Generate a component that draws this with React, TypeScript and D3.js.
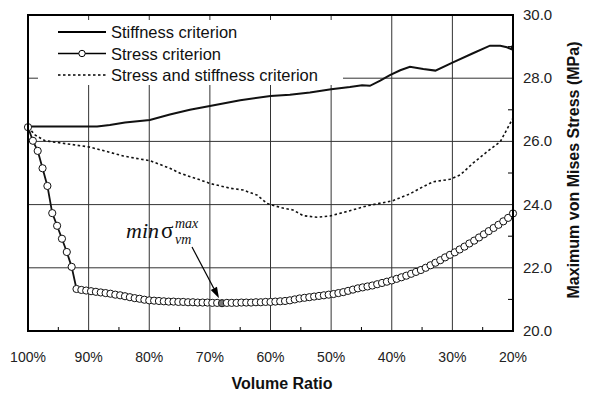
import * as d3 from 'd3';
import React from 'react';

// axis ticks
const volumeTicks = [100, 90, 80, 70, 60, 50, 40, 30, 20];
const volumeMinor = [95, 85, 75, 65, 55, 45, 35, 25];
const stressTicks = [20, 22, 24, 26, 28, 30];
const stressMinor = [21, 23, 25, 27, 29];

// stress criterion: one marker every 0.8 % of volume, 100% -> 20%
const stressStep = 0.8;
const stressCriterion = [
	26.45, 26.02, 25.7, 25.15, 24.59, 23.73, 23.33, 22.92, 22.5, 22.03, 21.33,
	21.3, 21.28, 21.26, 21.24, 21.22, 21.2, 21.18, 21.15, 21.13, 21.1,
	21.07, 21.04, 21.02, 20.99, 20.97, 20.96, 20.95, 20.94, 20.93, 20.93,
	20.92, 20.92, 20.91, 20.91, 20.9, 20.9, 20.9, 20.89, 20.89, 20.88,
	20.89, 20.89, 20.89, 20.9, 20.9, 20.9, 20.91, 20.91, 20.92, 20.92,
	20.93, 20.94, 20.95, 20.97, 21.0, 21.03, 21.05, 21.07, 21.09, 21.11,
	21.13, 21.15, 21.17, 21.2, 21.23, 21.27, 21.31, 21.35, 21.38, 21.41,
	21.44, 21.48, 21.52, 21.56, 21.6, 21.65, 21.7, 21.75, 21.81, 21.87,
	21.93, 22.0, 22.08, 22.16, 22.24, 22.33, 22.41, 22.49, 22.58, 22.67,
	22.77, 22.86, 22.96, 23.06, 23.16, 23.26, 23.36, 23.47, 23.58, 23.72,
];
const minIndex = 40;

// stiffness criterion
const stiffnessVolume = [100, 88.6, 86.5, 84, 79.9, 76.6, 73.3, 70, 65, 60, 56.8, 53.5, 50, 46.9, 44.9, 43.6, 41.9, 40.3, 38.6, 37, 34.8, 32.8, 29.9, 26.6, 23.8, 22.1, 21, 20.3, 20];
const stiffnessValue = [26.47, 26.47, 26.52, 26.6, 26.68, 26.85, 27.0, 27.12, 27.3, 27.44, 27.48, 27.55, 27.65, 27.72, 27.78, 27.76, 27.92, 28.1, 28.25, 28.36, 28.29, 28.24, 28.5, 28.79, 29.03, 29.03, 28.98, 28.92, 29.05];

// stress and stiffness criterion
const comboVolume = [100, 98.8, 97.2, 96.4, 89.8, 87.6, 84.3, 81.5, 79.9, 76.6, 74.9, 71.6, 70, 66.7, 64.5, 62.2, 60.6, 58.4, 56.3, 54.6, 52.3, 50.2, 47.4, 44.1, 39.9, 37, 35.3, 33.2, 30.4, 28.7, 26.6, 24.3, 22.1, 20];
const comboValue = [26.45, 26.2, 26.02, 26.0, 25.82, 25.71, 25.54, 25.44, 25.39, 25.15, 24.99, 24.78, 24.67, 24.52, 24.46, 24.3, 24.04, 23.91, 23.83, 23.65, 23.6, 23.64, 23.78, 23.96, 24.12, 24.34, 24.52, 24.72, 24.8, 24.94, 25.31, 25.67, 25.99, 26.74];

const legendItems = ['Stiffness criterion', 'Stress criterion', 'Stress and stiffness criterion'];

const sans = '"Liberation Sans", Arial, sans-serif';
const serif = '"Liberation Serif", "Times New Roman", serif';

export default function App() {
	const width = 590;
	const height = 394;
	const margin = { top: 15, right: 77, bottom: 63, left: 28 };

	const x = d3.scaleLinear().domain([100, 20]).range([margin.left, width - margin.right]);
	const y = d3.scaleLinear().domain([20, 30]).range([height - margin.bottom, margin.top]);

	const line = d3
		.line<[number, number]>()
		.x(d => x(d[0]))
		.y(d => y(d[1]));

	const stressPts: [number, number][] = stressCriterion.map((v, i) => [100 - i * stressStep, v]);
	const stiffPts: [number, number][] = stiffnessVolume.map((v, i) => [v, stiffnessValue[i]]);
	const comboPts: [number, number][] = comboVolume.map((v, i) => [v, comboValue[i]]);

	const [x0, x1] = x.range();
	const [y0, y1] = y.range();

	// annotation arrow
	const ax1 = 192, ay1 = 247;
	const minPt = stressPts[minIndex];
	const ax2 = x(minPt[0]) - 3, ay2 = y(minPt[1]) - 5;
	const ang = Math.atan2(ay2 - ay1, ax2 - ax1);
	const hl = 11, hw = 3.5;
	const bx = ax2 - hl * Math.cos(ang), by = ay2 - hl * Math.sin(ang);
	const head = `M${ax2},${ay2}L${bx + hw * Math.sin(ang)},${by - hw * Math.cos(ang)}L${bx - hw * Math.sin(ang)},${by + hw * Math.cos(ang)}Z`;

	return (
		<svg width={width} height={height} style={{ position: 'absolute', left: 0, top: 0, background: '#fff' }} fontFamily={sans}>
			{/* grid */}
			<g stroke="#333" strokeWidth={1}>
				{volumeTicks.slice(1, -1).map(t => (
					<line key={'vx' + t} x1={x(t)} x2={x(t)} y1={y1} y2={y0} />
				))}
				{stressTicks.slice(1, -1).map(t => (
					<line key={'hy' + t} x1={x0} x2={x1} y1={y(t)} y2={y(t)} />
				))}
			</g>
			{/* minor ticks */}
			<g stroke="#000" strokeWidth={1}>
				{volumeMinor.map(t => (
					<line key={'mx' + t} x1={x(t)} x2={x(t)} y1={y0} y2={y0 - 4} />
				))}
				{stressMinor.map(t => (
					<line key={'my' + t} x1={x1} x2={x1 - 5} y1={y(t)} y2={y(t)} />
				))}
			</g>

			{/* legend */}
			<rect x={38} y={20} width={305} height={65} fill="#fff" />
			{legendItems.map((name, i) => {
				const ly = 32 + i * 21.5;
				return (
					<g key={name}>
						<line
							x1={58}
							x2={106}
							y1={ly}
							y2={ly}
							stroke="#000"
							strokeWidth={i === 0 ? 2 : 1.5}
							strokeDasharray={i === 2 ? '2.5,2.5' : undefined}
						/>
						{i === 1 && <circle cx={82} cy={ly} r={3.2} fill="#fff" stroke="#000" strokeWidth={1} />}
						<text x={111} y={ly + 6} fontSize={16.5} fill="#111">
							{name}
						</text>
					</g>
				);
			})}

			{/* series */}
			<path d={line(comboPts) || ''} fill="none" stroke="#111" strokeWidth={1.6} strokeDasharray="2.5,2.5" />
			<path d={line(stiffPts) || ''} fill="none" stroke="#111" strokeWidth={2} />
			<path d={line(stressPts) || ''} fill="none" stroke="#111" strokeWidth={1.8} />
			{stressPts.map((d, i) => (
				<circle
					key={i}
					cx={x(d[0])}
					cy={y(d[1])}
					r={3.6}
					fill={i === minIndex ? '#777' : '#fff'}
					stroke="#111"
					strokeWidth={1}
				/>
			))}

			{/* frame */}
			<rect x={x0} y={y1} width={x1 - x0} height={y0 - y1} fill="none" stroke="#000" strokeWidth={2} />

			{/* annotation */}
			<line x1={ax1} y1={ay1} x2={bx} y2={by} stroke="#000" strokeWidth={1.2} />
			<path d={head} fill="#000" />
			<text fontFamily={serif} fill="#111">
				<tspan x={126} y={238} fontSize={22} fontStyle="italic">min</tspan>
				<tspan x={161} y={238} fontSize={23}>σ</tspan>
			</text>
			<text x={175} y={228} fontFamily={serif} fontSize={14} fontStyle="italic" fill="#111">max</text>
			<text x={175} y={244} fontFamily={serif} fontSize={14} fontStyle="italic" fill="#111">vm</text>

			{/* x tick labels */}
			{volumeTicks.map(t => (
				<text key={'lx' + t} x={x(t)} y={362} fontSize={14} textAnchor="middle" fill="#222">
					{t}%
				</text>
			))}
			{/* y tick labels */}
			{stressTicks.map(t => (
				<text key={'ly' + t} x={x1 + 10} y={y(t) + 5} fontSize={15} fill="#222">
					{t.toFixed(1)}
				</text>
			))}

			<text x={282} y={389} fontSize={16} fontWeight="bold" textAnchor="middle" fill="#111">
				Volume Ratio
			</text>
			<text
				transform={`translate(579,170) rotate(-90)`}
				fontSize={16}
				fontWeight="bold"
				textAnchor="middle"
				fill="#111"
			>
				Maximum von Mises Stress (MPa)
			</text>
		</svg>
	);
}
